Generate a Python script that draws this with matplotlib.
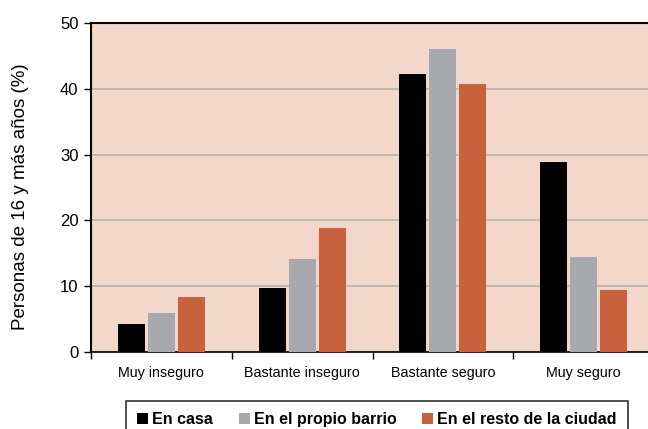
import matplotlib
matplotlib.use("Agg")
import matplotlib.pyplot as plt
import numpy as np

plt.rcParams['font.family'] = ['Liberation Sans', 'DejaVu Sans']

categories = ["Muy inseguro", "Bastante inseguro", "Bastante seguro", "Muy seguro"]
series_names = ["En casa", "En el propio barrio", "En el resto de la ciudad"]
en_casa = [4.2, 9.8, 42.3, 28.8]
propio_barrio = [5.9, 14.2, 46.1, 14.5]
resto_ciudad = [8.3, 18.8, 40.8, 9.4]
colors = ["#000000", "#A7A9AC", "#C8623E"]

W, H = 648, 429
fig = plt.figure(figsize=(W/100, H/100), dpi=100)
left, right, top, bottom = 91, 654, 23, 352
ax = fig.add_axes([left/W, 1-bottom/H, (right-left)/W, (bottom-top)/H])
ax.set_facecolor("#F2D7CA")

x = np.arange(len(categories))
step = 30/140.7
width = 27/140.7
for i, (vals, c, name) in enumerate(zip([en_casa, propio_barrio, resto_ciudad], colors, series_names)):
    ax.bar(x + (i-1)*step, vals, width=width, color=c, label=name, zorder=3)

ax.set_xlim(-0.5, len(categories)-0.5)
ax.set_ylim(0, 50)
ax.set_yticks([0, 10, 20, 30, 40, 50])
ax.yaxis.grid(True, color="#BBB2AE", linewidth=1.2, zorder=0)
ax.set_axisbelow(True)
ax.set_xticks(np.arange(len(categories)+1)-0.5, minor=False)
ax.set_xticklabels([])
ax.set_xticks(x, minor=True)
ax.set_xticklabels(categories, minor=True, fontsize=10.3)
ax.tick_params(axis='x', which='minor', length=0, pad=10)
ax.tick_params(axis='x', which='major', length=5, width=1, direction='out')
ax.tick_params(axis='y', length=5, width=1, direction='out', labelsize=12, pad=4)
for s in ['left', 'top']:
    ax.spines[s].set_linewidth(1.5)
    ax.spines[s].set_color('black')
ax.spines['bottom'].set_linewidth(1.2)
ax.spines['right'].set_visible(False)
ax.set_ylabel("Personas de 16 y más años (%)", fontsize=13.5)
ax.yaxis.set_label_coords(-0.111, 0.471)

leg = fig.legend(loc='upper left', bbox_to_anchor=(126/W, 1-401/H), ncol=3,
                 frameon=True, fancybox=False, edgecolor='black',
                 prop={'weight': 'bold', 'size': 11.5}, handlelength=0.7, handleheight=0.7,
                 handletextpad=0.25, columnspacing=1.6, borderpad=0.7, borderaxespad=0)
leg.get_frame().set_linewidth(1.2)

fig.savefig("out.png", dpi=100)
